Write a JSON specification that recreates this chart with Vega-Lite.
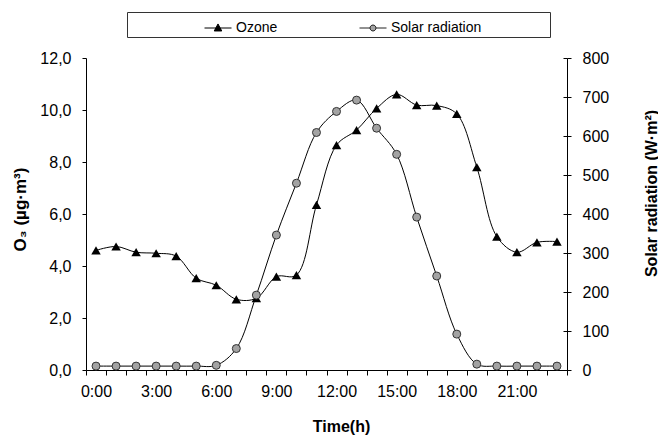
{
  "$schema": "https://vega.github.io/schema/vega-lite/v6.json",
  "width": 481,
  "height": 312,
  "autosize": {"type": "none"},
  "padding": {"left": 86, "top": 58, "right": 91, "bottom": 65},
  "config": {
    "font": "Liberation Sans",
    "view": {"stroke": null},
    "axis": {
      "grid": false,
      "domainColor": "#000",
      "tickColor": "#000",
      "labelColor": "#000",
      "titleColor": "#000",
      "labelFontSize": 16,
      "titleFontSize": 17,
      "titleFontWeight": "bold",
      "labelFont": "Liberation Sans",
      "titleFont": "Liberation Sans"
    },
    "legend": {
      "orient": "none",
      "legendX": 41,
      "legendY": -46,
      "direction": "horizontal",
      "titleOrient": "left",
      "titleFontSize": 1,
      "titlePadding": 75,
      "padding": 2,
      "strokeColor": "#333",
      "fillColor": "#fff",
      "symbolSize": 729,
      "symbolOpacity": 1,
      "symbolStrokeWidth": 1,
      "labelFontSize": 14,
      "labelColor": "#000",
      "labelOffset": 4,
      "columnPadding": 79
    }
  },
  "data": {
    "values": [
      {"hour": 0, "series": "Ozone", "value": 4.6},
      {"hour": 1, "series": "Ozone", "value": 4.75},
      {"hour": 2, "series": "Ozone", "value": 4.53},
      {"hour": 3, "series": "Ozone", "value": 4.49},
      {"hour": 4, "series": "Ozone", "value": 4.38},
      {"hour": 5, "series": "Ozone", "value": 3.53},
      {"hour": 6, "series": "Ozone", "value": 3.26},
      {"hour": 7, "series": "Ozone", "value": 2.72},
      {"hour": 8, "series": "Ozone", "value": 2.76},
      {"hour": 9, "series": "Ozone", "value": 3.59},
      {"hour": 10, "series": "Ozone", "value": 3.65},
      {"hour": 11, "series": "Ozone", "value": 6.35},
      {"hour": 12, "series": "Ozone", "value": 8.65},
      {"hour": 13, "series": "Ozone", "value": 9.23},
      {"hour": 14, "series": "Ozone", "value": 10.06},
      {"hour": 15, "series": "Ozone", "value": 10.6},
      {"hour": 16, "series": "Ozone", "value": 10.19},
      {"hour": 17, "series": "Ozone", "value": 10.17},
      {"hour": 18, "series": "Ozone", "value": 9.85},
      {"hour": 19, "series": "Ozone", "value": 7.8},
      {"hour": 20, "series": "Ozone", "value": 5.13},
      {"hour": 21, "series": "Ozone", "value": 4.53},
      {"hour": 22, "series": "Ozone", "value": 4.91},
      {"hour": 23, "series": "Ozone", "value": 4.94},
      {"hour": 0, "series": "Solar radiation", "value": 10},
      {"hour": 1, "series": "Solar radiation", "value": 10},
      {"hour": 2, "series": "Solar radiation", "value": 10},
      {"hour": 3, "series": "Solar radiation", "value": 10},
      {"hour": 4, "series": "Solar radiation", "value": 10},
      {"hour": 5, "series": "Solar radiation", "value": 10},
      {"hour": 6, "series": "Solar radiation", "value": 12},
      {"hour": 7, "series": "Solar radiation", "value": 55},
      {"hour": 8, "series": "Solar radiation", "value": 192},
      {"hour": 9, "series": "Solar radiation", "value": 346},
      {"hour": 10, "series": "Solar radiation", "value": 479},
      {"hour": 11, "series": "Solar radiation", "value": 609},
      {"hour": 12, "series": "Solar radiation", "value": 663},
      {"hour": 13, "series": "Solar radiation", "value": 692},
      {"hour": 14, "series": "Solar radiation", "value": 620},
      {"hour": 15, "series": "Solar radiation", "value": 553},
      {"hour": 16, "series": "Solar radiation", "value": 392},
      {"hour": 17, "series": "Solar radiation", "value": 241},
      {"hour": 18, "series": "Solar radiation", "value": 92},
      {"hour": 19, "series": "Solar radiation", "value": 15},
      {"hour": 20, "series": "Solar radiation", "value": 10},
      {"hour": 21, "series": "Solar radiation", "value": 10},
      {"hour": 22, "series": "Solar radiation", "value": 10},
      {"hour": 23, "series": "Solar radiation", "value": 10}
    ]
  },
  "layer": [
    {
      "transform": [{"filter": "datum.series === 'Ozone'"}],
      "encoding": {
        "x": {
          "field": "hour",
          "type": "quantitative",
          "scale": {"domain": [-0.5, 23.5], "nice": false, "zero": false},
          "axis": {
            "orient": "bottom",
            "values": [-0.5, 0.5, 1.5, 2.5, 3.5, 4.5, 5.5, 6.5, 7.5, 8.5, 9.5, 10.5, 11.5, 12.5, 13.5, 14.5, 15.5, 16.5, 17.5, 18.5, 19.5, 20.5, 21.5, 22.5, 23.5],
            "labels": false,
            "tickSize": 5,
            "title": "Time(h)",
            "titleFontSize": 16,
            "titleX": 255,
            "titleY": 56,
            "titleAlign": "center",
            "titleBaseline": "middle"
          }
        },
        "y": {
          "field": "value",
          "type": "quantitative",
          "scale": {"domain": [0, 12], "nice": false},
          "axis": {
            "orient": "left",
            "values": [0, 2, 4, 6, 8, 10, 12],
            "labelExpr": "replace(format(datum.value, '.1f'), '.', ',')",
            "tickSize": 4,
            "labelPadding": 11,
            "title": "O₃ (µg·m³)",
            "titleAngle": 270,
            "titleX": -66,
            "titleY": 151,
            "titleAlign": "center",
            "titleBaseline": "middle"
          }
        }
      },
      "layer": [
        {"mark": {"type": "line", "color": "#000", "strokeWidth": 1, "interpolate": "catmull-rom"}},
        {"mark": {"type": "point", "shape": "triangle-up", "filled": true, "fill": "#000", "size": 90, "opacity": 1}}
      ]
    },
    {
      "transform": [{"filter": "datum.series === 'Solar radiation'"}],
      "encoding": {
        "x": {
          "field": "hour",
          "type": "quantitative",
          "axis": {
            "orient": "bottom",
            "values": [0, 3, 6, 9, 12, 15, 18, 21],
            "labelExpr": "datum.value + ':00'",
            "labelOverlap": false,
            "ticks": false,
            "domain": false,
            "labelPadding": 13.5,
            "title": null
          }
        },
        "y": {
          "field": "value",
          "type": "quantitative",
          "scale": {"domain": [0, 800], "nice": false},
          "axis": {
            "orient": "right",
            "values": [0, 100, 200, 300, 400, 500, 600, 700, 800],
            "tickSize": 4,
            "labelPadding": 11,
            "title": "Solar radiation (W·m²)",
            "titleFontSize": 16,
            "titleAngle": 270,
            "titleX": 84,
            "titleY": 135,
            "titleAlign": "center",
            "titleBaseline": "middle"
          }
        }
      },
      "layer": [
        {"mark": {"type": "line", "color": "#000", "strokeWidth": 1, "interpolate": "catmull-rom"}},
        {"mark": {"type": "point", "shape": "circle", "filled": true, "fill": "#a3a3a3", "size": 64, "opacity": 1, "stroke": "#333", "strokeWidth": 1}}
      ]
    },
    {
      "transform": [{"filter": "datum.series === 'Solar radiation'"}],
      "mark": {"type": "point", "opacity": 0},
      "encoding": {
        "x": {"field": "hour", "type": "quantitative", "axis": null},
        "y": {
          "field": "value",
          "type": "quantitative",
          "scale": {"domain": [0, 800], "nice": false},
          "axis": {
            "orient": "right",
            "values": [0, 100, 200, 300, 400, 500, 600, 700, 800],
            "tickSize": -4,
            "labels": false,
            "domain": false,
            "title": null
          }
        }
      }
    },
    {
      "mark": {"type": "point", "opacity": 0, "filled": true, "strokeWidth": 1},
      "encoding": {
        "x": {"field": "hour", "type": "quantitative", "axis": null},
        "y": {"field": "value", "type": "quantitative", "axis": null},
        "fill": {
          "field": "series",
          "type": "nominal",
          "scale": {"domain": ["Ozone", "Solar radiation"], "range": ["#000000", "#a3a3a3"]},
          "legend": {"title": " "}
        },
        "stroke": {
          "field": "series",
          "type": "nominal",
          "scale": {"domain": ["Ozone", "Solar radiation"], "range": ["#000000", "#222222"]},
          "legend": {"title": " "}
        },
        "shape": {
          "field": "series",
          "type": "nominal",
          "scale": {
            "domain": ["Ozone", "Solar radiation"],
            "range": [
              "M-1,0H1M0,-0.3L0.28,0.22L-0.28,0.22Z",
              "M-1,0H-0.22M0.22,0H1M-0.22,0A0.22,0.22,0,1,1,0.22,0A0.22,0.22,0,1,1,-0.22,0ZM12.8,0"
            ]
          },
          "legend": {"title": " "}
        }
      }
    }
  ],
  "resolve": {"scale": {"y": "independent"}, "axis": {"x": "independent"}}
}
